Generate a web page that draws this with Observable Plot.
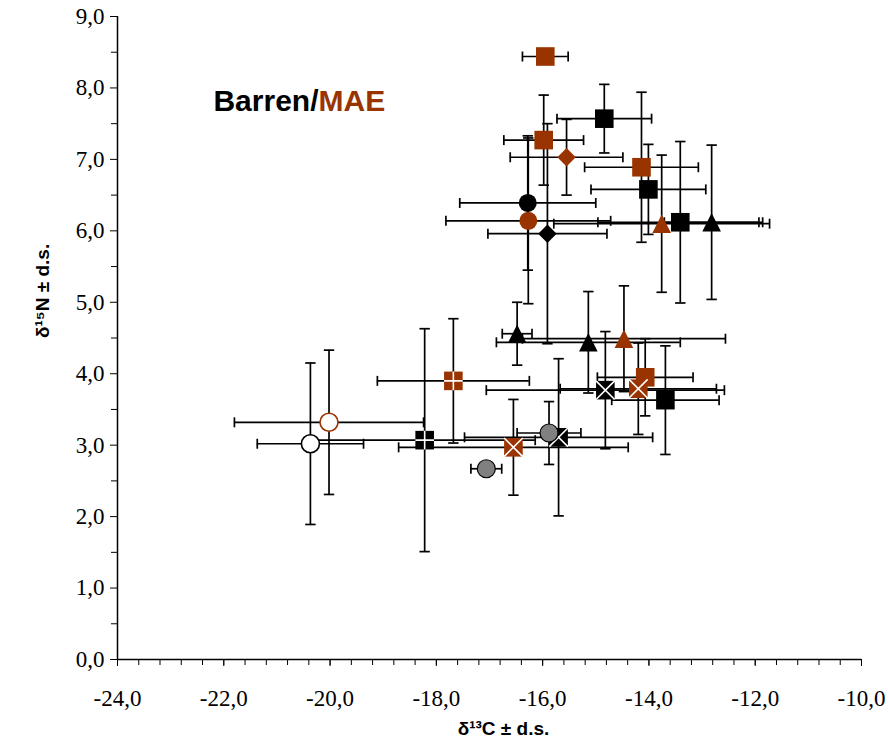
<!DOCTYPE html>
<html><head><meta charset="utf-8">
<script src="https://cdn.jsdelivr.net/npm/d3@7"></script>
<script src="https://cdn.jsdelivr.net/npm/@observablehq/plot@0.6"></script>
<style>body{margin:0;background:#fff}</style>
</head><body><div id="chart"></div>
<script>
// ---- data ----
const groups = ["MAE","Barren","MAE","MAE","MAE","Barren","Barren","MAE","Barren","MAE","Barren","Barren",
                "Barren","Barren","MAE","MAE","MAE","Barren","MAE","Barren","Barren","Barren","MAE","MAE",
                "MAE","Barren","Barren"];
const kinds  = ["square","square","square","diamond","square","square","circle","circle","diamond","triangle","square","triangle",
                "triangle","triangle","triangle","plusSquare","square","timesSquare","timesSquare","square","grey","timesSquare","timesSquare","grey",
                "open","open","plusSquare"];
const d13C = [-15.95,-14.84,-15.98,-15.55,-14.14,-14.01,-16.28,-16.27,-15.91,-13.76,-13.41,-12.82,
              -16.48,-15.14,-14.47,-17.68,-14.07,-14.82,-14.20,-13.69,-15.88,-15.70,-16.55,-17.06,
              -20.02,-20.37,-18.22];
const d15N = [8.44,7.57,7.27,7.03,6.89,6.58,6.39,6.14,5.96,6.10,6.12,6.12,
              4.56,4.44,4.49,3.90,3.95,3.77,3.79,3.63,3.17,3.11,2.97,2.67,
              3.32,3.02,3.07];
const sdC  = [0.43,0.89,0.75,1.06,1.07,1.08,1.28,1.55,1.12,2.03,1.55,0.89,
              0.28,1.73,1.91,1.43,0.90,2.24,1.47,1.01,0.60,1.77,2.16,0.29,
              1.78,1.00,2.08];
const sdN  = [0,0.48,0.63,0.53,1.05,0.63,0.94,1.16,1.54,0.96,1.13,1.08,
              0.44,0.71,0.74,0.87,0.54,0.82,0.64,0.76,0.44,1.10,0.67,0,
              1.01,1.13,1.56];
const xTicks = [-24,-22,-20,-18,-16,-14,-12,-10];
const yTicks = [0,1,2,3,4,5,6,7,8,9];
const xMinor = d3.range(0, 36).map(k => -24 + k * 0.4);
const yMinor = [0.5,1.5,2.5,3.5,4.5,5.5,6.5,7.5,8.5];

const data = d13C.map((x, i) => ({x, y: d15N[i], xe: sdC[i], ye: sdN[i], group: groups[i], kind: kinds[i]}));

const ORANGE = "#993300";
const colorOf = d => d.group === "MAE" ? ORANGE : "#000000";
const fmt = d => d.toFixed(1).replace(".", ",");

function sym(f) { return {draw(ctx) { f(ctx); }}; }
const H = 9.3;
const SQUARE = sym(c => c.rect(-H, -H, 2 * H, 2 * H));
const CIRCLE = sym(c => { c.moveTo(9, 0); c.arc(0, 0, 9, 0, 2 * Math.PI); });
const TRI = sym(c => { c.moveTo(0, -H); c.lineTo(H, H); c.lineTo(-H, H); c.closePath(); });
const DIAM = sym(c => { c.moveTo(0, -9.2); c.lineTo(9.2, 0); c.lineTo(0, 9.2); c.lineTo(-9.2, 0); c.closePath(); });
const PLUS = sym(c => { c.moveTo(-H, 0); c.lineTo(H, 0); c.moveTo(0, -H); c.lineTo(0, H); });
const TIMES = sym(c => { c.moveTo(-H, -H); c.lineTo(H, H); c.moveTo(H, -H); c.lineTo(-H, H); });
const VCAP = sym(c => { c.moveTo(0, -5); c.lineTo(0, 5); });
const HCAP = sym(c => { c.moveTo(-5.2, 0); c.lineTo(5.2, 0); });

const xe = data.filter(d => d.xe > 0);
const ye = data.filter(d => d.ye > 0);
const by = k => data.filter(d => d.kind === k);
const EW = 1.7;

const chart = Plot.plot({
  width: 888, height: 744,
  marginLeft: 117, marginRight: 27, marginTop: 16, marginBottom: 85,
  x: {domain: [-24, -10]},
  y: {domain: [0, 9]},
  color: {type: "identity"},
  style: {background: "#fff", color: "#000", overflow: "visible"},
  marks: [
    // axes
    Plot.axisY(yTicks, {tickSize: 7, tickPadding: 6, tickFormat: fmt, fontFamily: "Liberation Serif", fontSize: 23, label: null}),
    Plot.axisY(yMinor, {tickSize: 6, fill: "none", label: null}),
    Plot.axisX(xTicks, {tickSize: 7, tickPadding: 23, tickFormat: fmt, fontFamily: "Liberation Serif", fontSize: 23, label: null}),
    Plot.axisX(xMinor, {tickSize: 6, fill: "none", label: null}),
    Plot.ruleX([-24], {strokeWidth: 1.5}),
    Plot.ruleY([0], {strokeWidth: 1.5}),
    // error bars
    Plot.ruleY(xe, {y: "y", x1: d => d.x - d.xe, x2: d => d.x + d.xe, stroke: "#000", strokeWidth: EW}),
    Plot.ruleX(ye, {x: "x", y1: d => d.y - d.ye, y2: d => d.y + d.ye, stroke: "#000", strokeWidth: EW}),
    Plot.dot(xe, {x: d => d.x - d.xe, y: "y", symbol: VCAP, fill: "none", stroke: "#000", strokeWidth: EW}),
    Plot.dot(xe, {x: d => d.x + d.xe, y: "y", symbol: VCAP, fill: "none", stroke: "#000", strokeWidth: EW}),
    Plot.dot(ye, {x: "x", y: d => d.y - d.ye, symbol: HCAP, fill: "none", stroke: "#000", strokeWidth: EW}),
    Plot.dot(ye, {x: "x", y: d => d.y + d.ye, symbol: HCAP, fill: "none", stroke: "#000", strokeWidth: EW}),
    // markers
    Plot.dot(by("square"), {x: "x", y: "y", symbol: SQUARE, fill: colorOf, stroke: "none"}),
    Plot.dot(by("diamond"), {x: "x", y: "y", symbol: DIAM, fill: colorOf, stroke: "none"}),
    Plot.dot(by("circle"), {x: "x", y: "y", symbol: CIRCLE, fill: colorOf, stroke: "none"}),
    Plot.dot(by("triangle"), {x: "x", y: "y", symbol: TRI, fill: colorOf, stroke: "none"}),
    Plot.dot(by("timesSquare"), {x: "x", y: "y", symbol: SQUARE, fill: colorOf, stroke: "none"}),
    Plot.dot(by("timesSquare"), {x: "x", y: "y", symbol: TIMES, fill: "none", stroke: "#fff", strokeWidth: 1.6}),
    Plot.dot(by("plusSquare"), {x: "x", y: "y", symbol: SQUARE, fill: colorOf, stroke: "none"}),
    Plot.dot(by("plusSquare"), {x: "x", y: "y", symbol: PLUS, fill: "none", stroke: "#fff", strokeWidth: 1.6}),
    Plot.dot(by("grey"), {x: "x", y: "y", symbol: CIRCLE, fill: "#808080", stroke: "#000", strokeWidth: 1.2}),
    Plot.dot(by("open"), {x: "x", y: "y", symbol: CIRCLE, fill: "#fff", stroke: colorOf, strokeWidth: 1.6}),
    // title and axis titles
    Plot.text(["Barren/"], {frameAnchor: "top-left", dx: 201, dy: 73, textAnchor: "end", fontFamily: "Liberation Sans", fontWeight: "bold", fontSize: 30, fill: "#000"}),
    Plot.text(["MAE"], {frameAnchor: "top-left", dx: 201, dy: 73, textAnchor: "start", fontFamily: "Liberation Sans", fontWeight: "bold", fontSize: 30, fill: ORANGE}),
    Plot.text(["δ¹³C ± d.s."], {frameAnchor: "bottom", dx: 14, dy: 75, fontFamily: "Liberation Sans", fontWeight: "bold", fontSize: 19, fill: "#000"}),
    Plot.text(["δ¹⁵N ± d.s."], {frameAnchor: "left", dx: -75, rotate: -90, fontFamily: "Liberation Sans", fontWeight: "bold", fontSize: 19, fill: "#000"})
  ]
});
document.getElementById("chart").appendChild(chart);
</script>
</body></html>
